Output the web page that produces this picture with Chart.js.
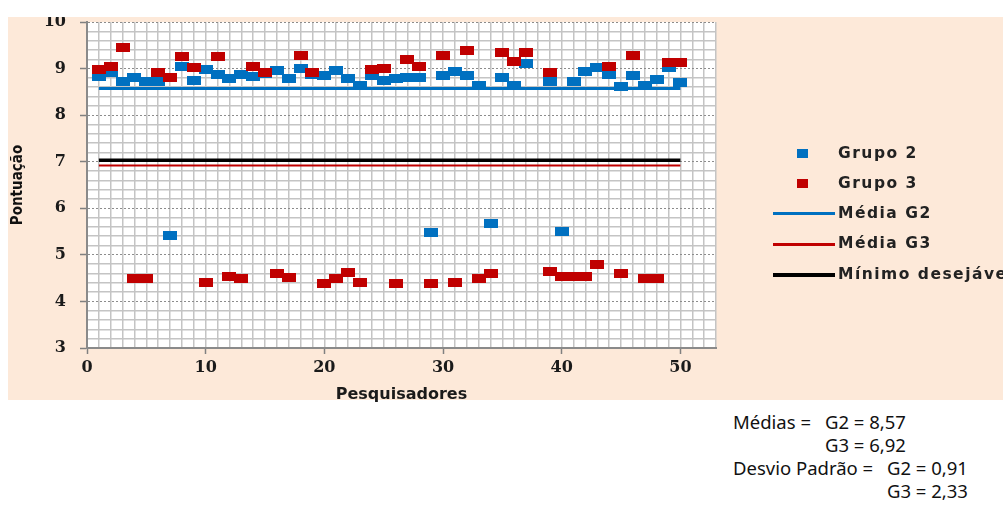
<!DOCTYPE html>
<html>
<head>
<meta charset="utf-8">
<script src="https://cdn.jsdelivr.net/npm/chart.js@4.4.1/dist/chart.umd.min.js"></script>
<style>
  body { margin: 0; background: #fff; width: 1003px; height: 509px; position: relative; overflow: hidden; }
  #peach { position: absolute; left: 8px; top: 17px; width: 995px; height: 383px; background: #fde9d9; }
  #chart { position: absolute; left: 8px; top: 17px; }
  .leg { position: absolute; font-family: 'DejaVu Sans', sans-serif; font-weight: bold; font-size: 15.5px;
         letter-spacing: 1.5px; color: #222; white-space: nowrap; line-height: 18px; }
  .mk { position: absolute; width: 11px; height: 9px; }
  .ln { position: absolute; width: 62px; }
  .st { position: absolute; font-family: 'Noto Sans', sans-serif; font-size: 18.5px; color: #111;
        white-space: nowrap; line-height: 22px; }
</style>
</head>
<body>
<div id="peach"></div>
<canvas id="chart" width="995" height="390"></canvas>

<!-- legend -->
<div class="mk" style="left:797px; top:149px; background:#0070c0"></div>
<div class="leg" style="left:838px; top:144px">Grupo 2</div>
<div class="mk" style="left:797px; top:179px; background:#c00000"></div>
<div class="leg" style="left:838px; top:174px">Grupo 3</div>
<div class="ln" style="left:773px; top:212px; height:3px; background:#0070c0"></div>
<div class="leg" style="left:838px; top:204px">Média G2</div>
<div class="ln" style="left:773px; top:243px; height:3px; background:#c00000"></div>
<div class="leg" style="left:838px; top:234px">Média G3</div>
<div class="ln" style="left:773px; top:273px; height:4px; background:#000"></div>
<div class="leg" style="left:838px; top:265px">Mínimo desejável</div>

<!-- estatísticas -->
<div class="st" style="left:733px; top:411px">Médias =</div>
<div class="st" style="left:825px; top:411px">G2 = 8,57</div>
<div class="st" style="left:825px; top:434px">G3 = 6,92</div>
<div class="st" style="left:733px; top:457px">Desvio Padrão =</div>
<div class="st" style="left:887px; top:457px">G2 = 0,91</div>
<div class="st" style="left:887px; top:480px">G3 = 2,33</div>

<script>
// dados
const pesquisadores = [1, 2, 3, 4, 5, 6, 7, 8, 9, 10, 11, 12, 13, 14, 15, 16, 17, 18, 19, 20,
  21, 22, 23, 24, 25, 26, 27, 28, 29, 30, 31, 32, 33, 34, 35, 36, 37, 38, 39, 40,
  41, 42, 43, 44, 45, 46, 47, 48, 49, 50];
const grupo2 = [8.84, 8.91, 8.73, 8.81, 8.72, 8.72, 5.41, 9.05, 8.75, 8.99,
  8.88, 8.79, 8.88, 8.84, 8.90, 8.95, 8.79, 9.00, 8.88, 8.85,
  8.95, 8.78, 8.63, 8.86, 8.74, 8.79, 8.81, 8.81, 5.48, 8.85,
  8.93, 8.85, 8.63, 5.68, 8.80, 8.64, 9.10, null, 8.72, 5.50,
  8.73, 8.93, 9.02, 8.88, 8.61, 8.86, 8.64, 8.77, 9.03, 8.70];
const xGrupo3 = [1, 2, 3, 4, 5, 6, 7, 8, 9, 10, 11, 12, 13, 14, 15, 16, 17, 18, 19, 20,
  21, 22, 23, 24, 25, 26, 27, 28, 29, 30, 31, 32, 33, 34, 35, 36, 37, 39, 39, 40,
  41, 42, 43, 44, 45, 46, 47, 48, 49, 50];
const grupo3 = [8.98, 9.05, 9.46, 4.49, 4.49, 8.91, 8.81, 9.26, 9.03, 4.40,
  9.26, 4.54, 4.49, 9.05, 8.91, 4.60, 4.51, 9.28, 8.91, 4.38,
  4.49, 4.62, 4.40, 8.97, 9.01, 4.38, 9.20, 9.05, 4.38, 9.28,
  4.40, 9.38, 4.50, 4.61, 9.34, 9.15, 9.34, 4.64, 8.91, 4.54,
  4.54, 4.54, 4.79, 9.05, 4.61, 9.28, 4.49, 4.49, 9.13, 9.12];
const mediaG2 = 8.57;
const mediaG3 = 6.92;
const minimoDesejavel = 7.03;
const linhaX = [1, 50];

const azul = '#0070c0';
const vermelho = '#c00000';

function marker(color) {
  const c = document.createElement('canvas');
  c.width = 14;
  c.height = 9;
  const g = c.getContext('2d');
  g.fillStyle = color;
  g.fillRect(0, 0, 14, 9);
  return c;
}

function hline(value) {
  return linhaX.map(x => ({ x: x, y: value }));
}

const isInt = v => Math.abs(v - Math.round(v)) < 1e-6;

// fixed axis boxes so the plot area sits where the original one does
function fixY(width) {
  return s => { s.width = width; s.paddingTop = 0; s.paddingBottom = 0; };
}
function fixX(height) {
  return s => { s.height = height; s.paddingLeft = 0; s.paddingRight = 0; };
}

const plotBg = {
  id: 'plotBg',
  beforeDraw(chart) {
    const a = chart.chartArea;
    chart.ctx.save();
    chart.ctx.fillStyle = '#ffffff';
    chart.ctx.fillRect(a.left, a.top, a.right - a.left, a.bottom - a.top);
    chart.ctx.restore();
  }
};

const tickFont = { family: 'DejaVu Serif', weight: 'bold', size: 16 };

new Chart(document.getElementById('chart'), {
  type: 'scatter',
  data: {
    datasets: [
      {
        label: 'Grupo 3',
        data: xGrupo3.map((x, i) => ({ x: x, y: grupo3[i] })),
        pointStyle: marker(vermelho),
        order: 1
      },
      {
        label: 'Grupo 2',
        data: pesquisadores.map((x, i) => ({ x: x, y: grupo2[i] })),
        pointStyle: marker(azul),
        order: 2
      },
      {
        label: 'Média G2',
        data: hline(mediaG2),
        showLine: true,
        borderColor: azul,
        borderWidth: 3,
        pointRadius: 0,
        order: 3
      },
      {
        label: 'Média G3',
        data: hline(mediaG3),
        showLine: true,
        borderColor: vermelho,
        borderWidth: 2,
        pointRadius: 0,
        order: 3
      },
      {
        label: 'Mínimo desejável',
        data: hline(minimoDesejavel),
        showLine: true,
        borderColor: '#000000',
        borderWidth: 3.5,
        pointRadius: 0,
        order: 3
      }
    ]
  },
  options: {
    responsive: false,
    animation: false,
    layout: { padding: { left: 0, top: 5, right: 287, bottom: 0 } },
    plugins: {
      legend: { display: false },
      tooltip: { enabled: false }
    },
    scales: {
      x: {
        type: 'linear',
        position: 'bottom',
        min: 0,
        max: 53,
        ticks: {
          stepSize: 10,
          autoSkip: false,
          maxRotation: 0,
          padding: 4,
          color: '#1a1a1a',
          font: tickFont,
          callback: v => (v % 10 === 0 ? v : null)
        },
        grid: {
          drawOnChartArea: false,
          tickLength: 6,
          tickWidth: 1.5,
          tickColor: ctx => (ctx.tick && ctx.tick.value % 10 === 0 ? '#808080' : 'transparent')
        },
        border: { color: '#8a8a8a', width: 2 },
        title: {
          display: true,
          text: 'Pesquisadores',
          color: '#1a1a1a',
          font: { family: 'DejaVu Sans', weight: 'bold', size: 16 },
          padding: { top: 0, bottom: 3 }
        },
        afterFit: fixX(59)
      },
      xg: {
        type: 'linear',
        position: 'bottom',
        min: 0,
        max: 53,
        ticks: { stepSize: 1, display: false, maxTicksLimit: 1000 },
        grid: { color: '#c4c4c4', lineWidth: 1.5, drawTicks: false },
        border: { display: false },
        afterFit: fixX(0)
      },
      y: {
        type: 'linear',
        position: 'left',
        min: 3,
        max: 10,
        ticks: {
          stepSize: 1,
          padding: 14,
          color: '#1a1a1a',
          font: tickFont
        },
        grid: {
          color: '#8c8c8c',
          lineWidth: 1,
          tickLength: 7,
          tickWidth: 1.5,
          tickColor: '#808080'
        },
        border: { color: '#8a8a8a', width: 2, dash: [2, 2] },
        title: {
          display: true,
          text: 'Pontuação',
          color: '#111111',
          font: { family: "'DejaVu Sans Condensed', 'DejaVu Sans'", weight: 'bold', size: 15 },
          padding: { top: 1, bottom: 0 }
        },
        afterFit: fixY(79)
      },
      yg: {
        type: 'linear',
        position: 'left',
        min: 3,
        max: 10,
        ticks: { stepSize: 0.2, display: false, maxTicksLimit: 1000 },
        grid: {
          lineWidth: 1.5,
          drawTicks: false,
          color: ctx => (ctx.tick && isInt(ctx.tick.value) ? 'transparent' : '#c4c4c4')
        },
        border: { display: false },
        afterFit: fixY(0)
      }
    }
  },
  plugins: [plotBg]
});
</script>
</body>
</html>
